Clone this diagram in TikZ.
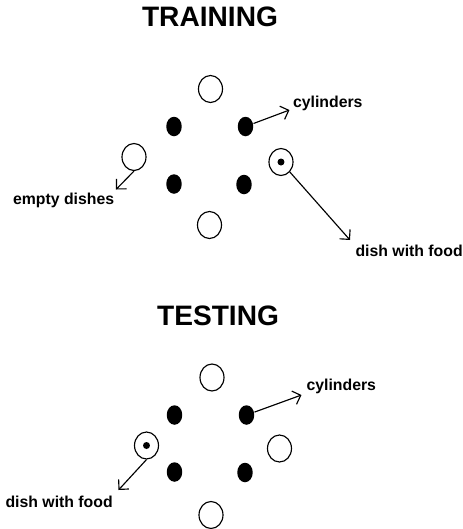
\documentclass[tikz,border=0pt]{standalone}
\usepackage{fontspec}
\setmainfont{Liberation Sans}
\usetikzlibrary{arrows.meta,shapes.geometric}
\begin{document}
\begin{tikzpicture}
  [x=0.02cm,y=-0.02cm,line width=0.65pt,
   dish/.style={ellipse,draw,minimum width=0.48cm,minimum height=0.54cm,inner sep=0},
   cyl/.style={ellipse,fill,minimum width=0.31cm,minimum height=0.39cm,inner sep=0},
   food/.style={circle,fill,minimum size=0.14cm,inner sep=0},
   lbl/.style={anchor=base west,inner sep=0,font=\fontsize{9}{11}\selectfont\bfseries},
   ttl/.style={anchor=base,inner sep=0,font=\fontsize{16}{19}\selectfont\bfseries},
   arr/.style={-{Straight Barb[length=4pt,width=8pt]}}]
\useasboundingbox (0,0) rectangle (463,529);
% training
\node (ttla)[ttl] at (210,26.7) {TRAINING};
\node (da1)[dish] at (210.5,89) {};
\node (da2)[dish] at (134,157) {};
\node (da3)[dish] at (281,162) {};
\node (fa)[food] at (281,162) {};
\node (da4)[dish] at (209.5,225) {};
\node (ca1)[cyl] at (174,126.5) {};
\node (ca2)[cyl] at (245.5,126.5) {};
\node (ca3)[cyl] at (174,184) {};
\node (ca4)[cyl] at (244,184.5) {};
\node (la1)[lbl] at (292.5,107.5) {cylinders};
\node (la2)[lbl] at (12.5,204.5) {empty dishes};
\node (la3)[lbl] at (355,256.5) {dish with food};
\coordinate (ta1) at (289.5,110);
\coordinate (ta2) at (116,189.5);
\coordinate (ta3) at (350,240);
\foreach \from/\to in {ca2/ta1,da2.south/ta2,da3/ta3}
  \draw[arr] (\from) -- (\to);
% testing
\node (ttlb)[ttl] at (218,325) {TESTING};
\node (db1)[dish] at (212,377.5) {};
\node (db2)[dish] at (146.5,445.5) {};
\node (fb)[food] at (146.5,445.5) {};
\node (db3)[dish] at (279.5,448.5) {};
\node (db4)[dish] at (211,515) {};
\node (cb1)[cyl] at (174.5,415) {};
\node (cb2)[cyl] at (246.5,415) {};
\node (cb3)[cyl] at (174.5,472) {};
\node (cb4)[cyl] at (245,472.5) {};
\node (lb1)[lbl] at (306,390.5) {cylinders};
\node (lb2)[lbl] at (5,507.5) {dish with food};
\coordinate (tb1) at (301.5,395);
\coordinate (tb2) at (118.5,490);
\foreach \from/\to in {cb2/tb1,db2.south/tb2}
  \draw[arr] (\from) -- (\to);
\end{tikzpicture}
\end{document}
